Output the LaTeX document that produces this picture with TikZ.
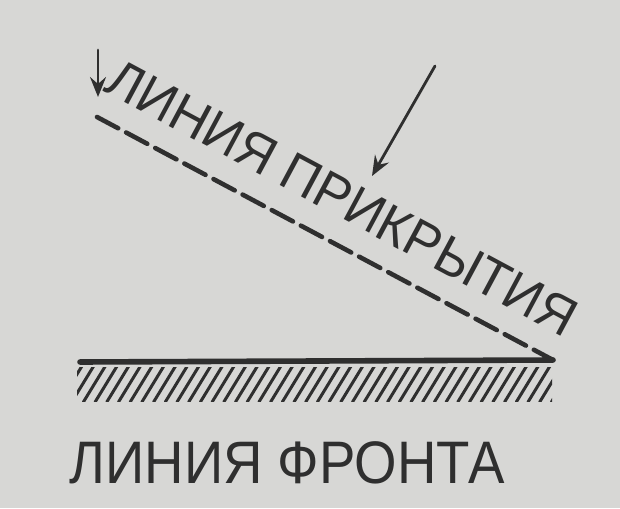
\documentclass[tikz,border=0pt]{standalone}
\usepackage{fontspec}
\setmainfont{Liberation Sans}
\usetikzlibrary{arrows.meta}
\definecolor{paper}{HTML}{D7D7D5}
\definecolor{ink}{HTML}{2F2F2F}

\begin{document}
\begin{tikzpicture}[x=.5pt, y=-.5pt, line cap=round,
  cover/.style={ink, line width=2.3pt, dash pattern=on 12pt off 4.5pt},
  attack/.style={ink, line width=1.4pt, -{Stealth[length=10pt, width=8pt, inset=3.5pt]}},
  lbl/.style={ink, inner sep=0, font=\fontsize{27}{27}\selectfont}]
\fill[paper] (0,0) rectangle (620,508);
\useasboundingbox (0,0) rectangle (620,508);

% front line with hatching
\coordinate (f1) at (80,362);
\coordinate (f2) at (553,360);
\draw[ink, line width=2.8pt] (f1) -- (f2);
\begin{scope}
\clip (77,367) rectangle (552,401);
\foreach \x in {60,71.7,...,560}
  \draw[ink, line width=1.5pt] (\x,402) -- (\x+22,366);
\end{scope}

% covering line
\coordinate (c1) at (97,117);
\draw[cover] (c1) -- (f2);

\node[lbl, rotate=-28.2, xscale=.96] (cover text) at (342,198) {ЛИНИЯ ПРИКРЫТИЯ};
\node[lbl, xscale=.91, font=\fontsize{30}{30}\selectfont] (front text) at (287,463) {ЛИНИЯ ФРОНТА};

% arrows
\coordinate (a1) at (98,50);
\coordinate (a2) at (98,97);
\coordinate (b1) at (435,66);
\coordinate (b2) at (372,176);
\draw[attack] (a1) -- (a2);
\draw[attack] (b1) -- (b2);

\end{tikzpicture}
\end{document}
